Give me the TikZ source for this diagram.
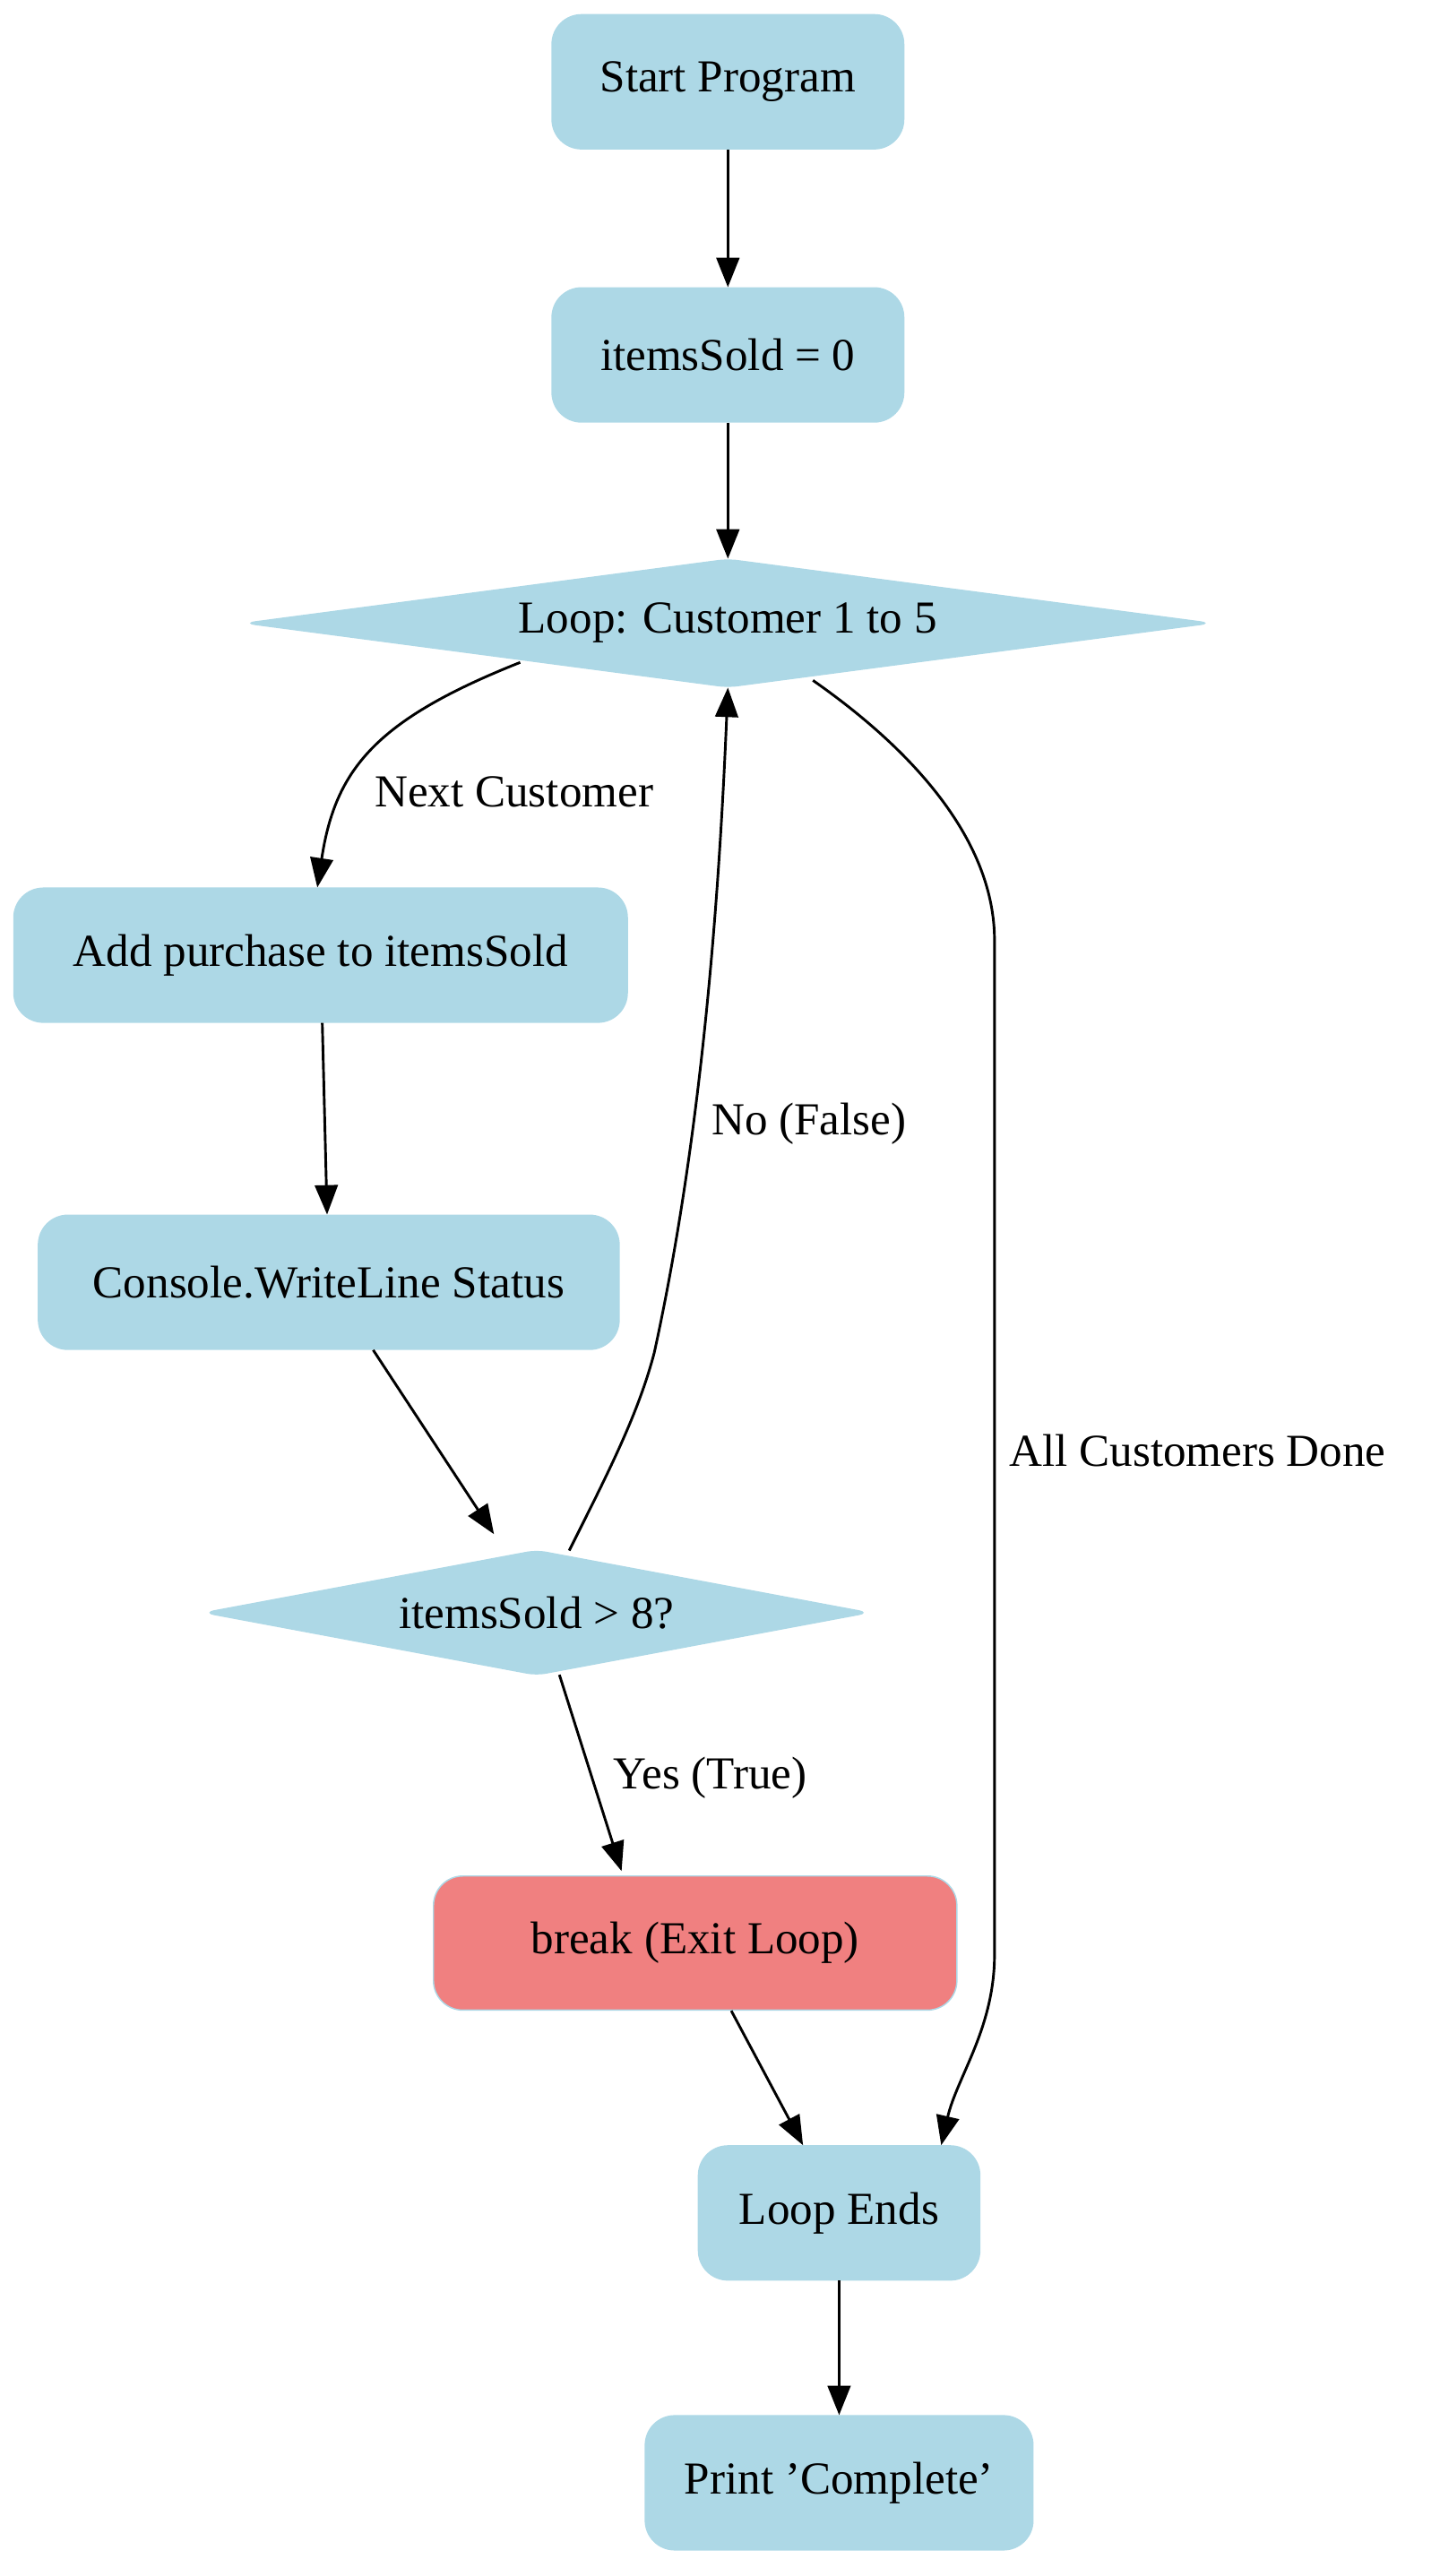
\documentclass[tikz,border=0pt]{standalone}
\usepackage{fontspec}
\setmainfont{Liberation Serif}
\usetikzlibrary{arrows.meta}
\definecolor{lblue}{HTML}{ADD8E6}
\definecolor{lcoral}{HTML}{F08080}
\tikzset{
  action/.style={draw=lblue,fill=lblue,rounded corners=9pt,minimum height=41pt,font=\fontsize{14pt}{16pt}\selectfont},
  decide/.style={inner sep=0pt,font=\fontsize{14pt}{16pt}\selectfont},
  rhomb/.style={fill=lblue,draw=lblue,rounded corners=3pt},
  flow/.style={-{Triangle[length=9pt,width=7pt]},line width=0.8pt},
  lab/.style={font=\fontsize{14pt}{16pt}\selectfont}
}
\begin{document}
\begin{tikzpicture}[x=0.5pt,y=-0.5pt]
\useasboundingbox (0,0) rectangle (880,1575);
% diamonds
\path[rhomb] (150,381) -- (445,342) -- (740,381) -- (445,420) -- cycle;
\path[rhomb] (125,986) -- (328,948) -- (531,986) -- (328,1024) -- cycle;
% nodes
\node[action,minimum width=107.5pt] (start) at (445,50) {Start Program};
\node[action,minimum width=107.5pt] (init) at (445,217) {itemsSold = 0};
\node[decide,minimum width=294pt,minimum height=39pt] (loop) at (445,381) {Loop: Customer 1 to 5};
\node[action,minimum width=187.5pt] (add) at (196,584) {Add purchase to itemsSold};
\node[action,minimum width=177.5pt] (console) at (201,784) {Console.WriteLine Status};
\node[decide,minimum width=202pt,minimum height=38pt] (cond) at (328,986) {itemsSold > 8?};
\node[action,fill=lcoral,minimum width=160pt] (brk) at (425,1188) {break (Exit Loop)};
\node[action,minimum width=86pt] (ends) at (513,1353) {Loop Ends};
\node[action,minimum width=118.5pt] (print) at (513,1518) {Print {\char"27}Complete{\char"27}};
% edges
\draw[flow] (start) -- (init);
\draw[flow] (init) -- (loop);
\draw[flow] (318,405) .. controls (230,440) and (205,470) .. ([xshift=-1pt]add.north);
\node[lab,anchor=west] at (222,484) {Next Customer};
\draw[flow] (add) -- (console);
\draw[flow] (console) -- (302,938);
\draw[flow] (348,948) .. controls (372,900) and (390,865) .. (400,827) .. controls (430,690) and (440,540) .. (loop.south);
\node[lab,anchor=west] at (428,687) {No (False)};
\draw[flow] (497,416) .. controls (560,460) and (608,515) .. (608,575) -- (608,1195) .. controls (608,1240) and (585,1270) .. ([xshift=-12pt]ends.north east);
\node[lab,anchor=west] at (610,887) {All Customers Done};
\draw[flow] (342,1024) -- (380,1144);
\node[lab,anchor=west] at (368,1087) {Yes (True)};
\draw[flow] (brk) -- (ends);
\draw[flow] (ends) -- (print);
\end{tikzpicture}
\end{document}
